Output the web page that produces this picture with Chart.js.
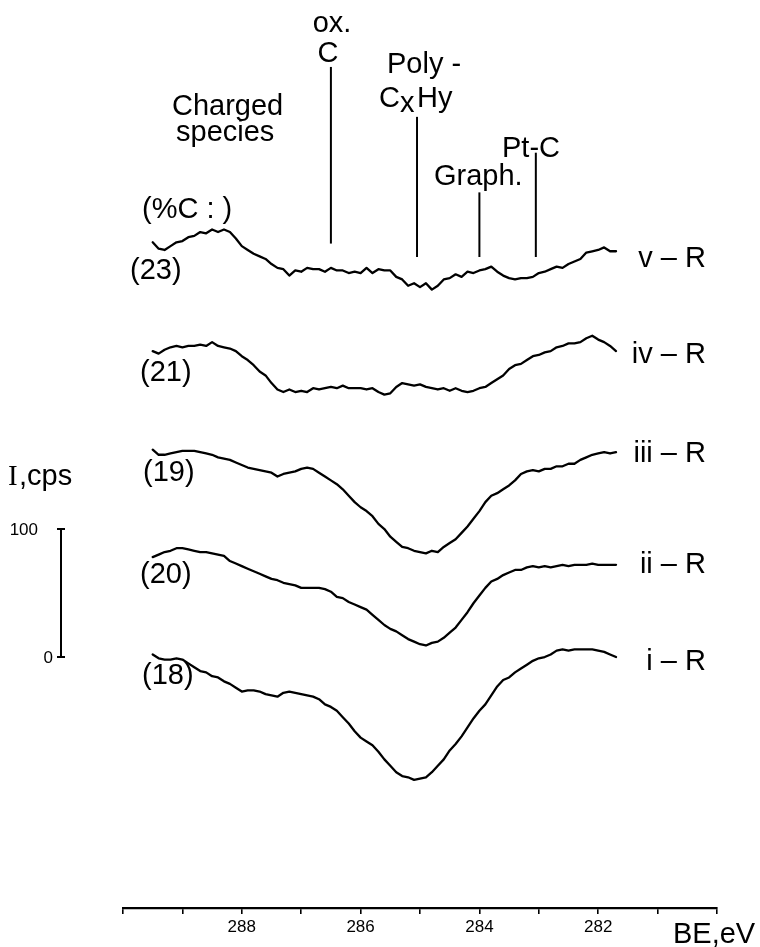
<!DOCTYPE html>
<html>
<head>
<meta charset="utf-8">
<script src="https://cdn.jsdelivr.net/npm/chart.js@4/dist/chart.umd.min.js"></script>
<style>
  html, body { margin: 0; padding: 0; background: #fff; }
  #wrap { position: relative; width: 760px; height: 947px; }
  canvas { display: block; }
</style>
</head>
<body>
<div id="wrap"><canvas id="c" width="760" height="947"></canvas></div>
<script>
// Binding energy grid (eV)
const bindingEnergy = [
  289.5,289.4,289.3,289.2,289.1,289.0,288.9,288.8,288.7,288.6,
  288.5,288.4,288.3,288.2,288.1,288.0,287.9,287.8,287.7,287.6,
  287.5,287.4,287.3,287.2,287.1,287.0,286.9,286.8,286.7,286.6,
  286.5,286.4,286.3,286.2,286.1,286.0,285.9,285.8,285.7,285.6,
  285.5,285.4,285.3,285.2,285.1,285.0,284.9,284.8,284.7,284.6,
  284.5,284.4,284.3,284.2,284.1,284.0,283.9,283.8,283.7,283.6,
  283.5,283.4,283.3,283.2,283.1,283.0,282.9,282.8,282.7,282.6,
  282.5,282.4,282.3,282.2,282.1,282.0,281.9,281.8,281.7
];

// Spectrum names, carbon percentages, vertical stacking offsets (cps)
const seriesNames = ["v – R", "iv – R", "iii – R", "ii – R", "i – R"];
const carbonPct = ["(23)", "(21)", "(19)", "(20)", "(18)"];
const stackOffsets = [287, 205, 81, 9, -96];

// Intensities (cps, relative to each trace's own minimum)
const spectrumV = [37,32,31,34,37,38,41,42,45,44, 47,45,47,45,40,34,31,28,26,24,
  20,17,16,11,15,14,17,16,16,14, 17,15,15,13,14,13,17,13,16,15,
  15,10,8,3,5,2,5,0,3,8, 9,12,10,14,13,15,16,18,14,11,
  9,8,9,9,10,13,14,16,18,17, 20,22,24,29,30,31,33,30,30];
const spectrumIV = [34,32,35,37,38,37,38,38,39,38, 41,38,37,36,34,30,27,23,18,15,
  9,4,2,4,2,3,2,5,4,5, 6,5,7,5,5,5,4,5,2,0,
  1,6,9,8,7,8,6,5,4,5, 3,5,3,2,3,5,6,9,12,15,
  20,23,24,27,30,31,33,34,37,38, 40,40,41,44,46,43,41,38,34];
const spectrumIII = [81,77,77,78,79,80,80,80,79,78, 77,75,74,73,71,69,67,66,65,64,
  63,60,62,63,64,66,67,66,63,60, 57,54,50,45,40,36,33,29,23,19,
  13,9,5,4,2,1,0,2,1,5, 8,11,16,21,27,33,40,45,47,50,
  53,57,62,64,65,64,66,66,68,68, 70,70,73,75,77,78,79,78,79];
const spectrumII = [69,71,73,74,76,76,75,74,73,73, 72,71,70,66,64,62,60,58,56,54,
  52,51,49,48,47,45,45,45,45,44, 42,38,37,34,32,30,28,24,20,16,
  13,11,8,5,3,1,0,2,3,6, 10,14,20,26,33,39,45,50,52,55,
  57,59,59,61,62,61,62,61,62,63, 62,63,63,63,64,63,63,63,63];
const spectrumI = [98,95,94,94,95,94,91,88,85,84, 81,80,77,75,72,69,70,70,69,67,
  66,65,68,69,68,67,66,65,63,59, 57,54,49,44,38,33,30,27,22,16,
  11,6,3,2,0,1,2,6,11,16, 23,28,34,41,48,54,59,66,73,78,
  80,84,87,90,93,95,96,98,101,102, 101,102,102,102,102,101,100,98,96];
const spectra = [spectrumV, spectrumIV, spectrumIII, spectrumII, spectrumI];

// Reference binding energies of carbon species (eV)
const speciesNames = ["ox. C", "Poly-CxHy", "Graph.", "Pt-C"];
const speciesBE = [286.5, 285.05, 284.0, 283.05];

// Axis ticks
const xTickLabels = [288, 286, 284, 282];
const scaleBarTicks = [0, 100];

const FONT = "'Liberation Sans', Arial, Helvetica, sans-serif";

// marker line extents in stacked cps
const markerTop = [461, 422, 363, 394];
const markerBottom = [323, 312.5, 312.5, 312.5];

const datasets = spectra.map((vals, k) => ({
  label: seriesNames[k],
  data: vals.map((v, i) => ({ x: bindingEnergy[i], y: v + stackOffsets[k] })),
  borderColor: '#000',
  borderWidth: 2.3,
  pointRadius: 0,
  tension: 0,
  fill: false,
  borderJoinStyle: 'round',
  borderCapStyle: 'round'
}));

const overlay = {
  id: 'overlay',
  afterDatasetsDraw(chart) {
    const ctx = chart.ctx;
    const xs = chart.scales.x, ys = chart.scales.y;
    ctx.save();
    ctx.fillStyle = '#000';
    ctx.strokeStyle = '#000';
    // species marker lines
    speciesBE.forEach((be, k) => {
      const px = xs.getPixelForValue(be);
      ctx.beginPath();
      ctx.lineWidth = 2;
      ctx.moveTo(px, ys.getPixelForValue(markerTop[k]));
      ctx.lineTo(px, ys.getPixelForValue(markerBottom[k]));
      ctx.stroke();
    });
    ctx.textBaseline = 'alphabetic';
    const f = (s) => s + 'px ' + FONT;
    // species labels
    ctx.font = f(29);
    ctx.textAlign = 'center';
    ctx.fillText('ox.', 332, 32);
    ctx.fillText('C', 328, 62);
    ctx.textAlign = 'left';
    ctx.fillText('Poly -', 387, 73);
    ctx.fillText('C', 379, 107);
    ctx.fillText('x', 400, 112);
    ctx.fillText('Hy', 417, 107);
    ctx.fillText('Graph.', 434, 185);
    ctx.fillText('Pt-C', 502, 157);
    ctx.fillText('Charged', 172, 115);
    ctx.fillText('species', 176, 141);
    ctx.fillText('(%C : )', 142, 218);
    // carbon percentages
    const pctY = [279, 381, 481, 583, 684];
    const pctX = [130, 140, 143, 140, 142];
    carbonPct.forEach((t, k) => ctx.fillText(t, pctX[k], pctY[k]));
    // series labels
    ctx.textAlign = 'right';
    const nameY = [267, 363, 462, 573, 670];
    seriesNames.forEach((t, k) => ctx.fillText(t, 706, nameY[k]));
    // axis title
    ctx.textAlign = 'left';
    ctx.fillText('BE,eV', 673, 943);
    // intensity scale bar
    const barX = 61;
    const y0 = ys.getPixelForValue(scaleBarTicks[0]);
    const y1 = ys.getPixelForValue(scaleBarTicks[1]);
    ctx.lineWidth = 2;
    ctx.beginPath();
    ctx.moveTo(barX, y0); ctx.lineTo(barX, y1);
    ctx.moveTo(barX - 4, y0); ctx.lineTo(barX + 4, y0);
    ctx.moveTo(barX - 4, y1); ctx.lineTo(barX + 4, y1);
    ctx.stroke();
    ctx.font = f(17);
    ctx.textAlign = 'right';
    ctx.fillText(String(scaleBarTicks[1]), 38, y1 + 6);
    ctx.fillText(String(scaleBarTicks[0]), 53, y0 + 6);
    // y label "I, cps"
    ctx.textAlign = 'left';
    ctx.font = "29px 'Liberation Serif', 'Times New Roman', serif";
    ctx.fillText('I', 8, 485);
    ctx.font = f(29);
    ctx.fillText(',cps', 19, 485);
    ctx.restore();
  }
};

new Chart(document.getElementById('c'), {
  type: 'line',
  data: { datasets },
  options: {
    responsive: false,
    animation: false,
    events: [],
    layout: { padding: { left: 123, right: 43, top: 0, bottom: 0 } },
    plugins: { legend: { display: false }, tooltip: { enabled: false } },
    scales: {
      x: {
        type: 'linear',
        reverse: true,
        min: 280,
        max: 290,
        afterBuildTicks(scale) {
          const t = [];
          for (let v = 280; v <= 290; v++) t.push({ value: v });
          scale.ticks = t;
        },
        ticks: {
          autoSkip: false,
          maxRotation: 0,
          color: '#000',
          padding: 3,
          font: { size: 17, family: FONT },
          callback: (v) => xTickLabels.includes(v) ? String(v) : ''
        },
        grid: {
          display: true,
          drawOnChartArea: false,
          drawTicks: true,
          tickLength: 6,
          color: '#000',
          lineWidth: 1.6
        },
        border: { display: true, color: '#000', width: 2.2 },
        afterFit(scale) { scale.height = 39; }
      },
      y: { display: false, min: -196.1, max: 513.3 }
    }
  },
  plugins: [overlay]
});
</script>
</body>
</html>
